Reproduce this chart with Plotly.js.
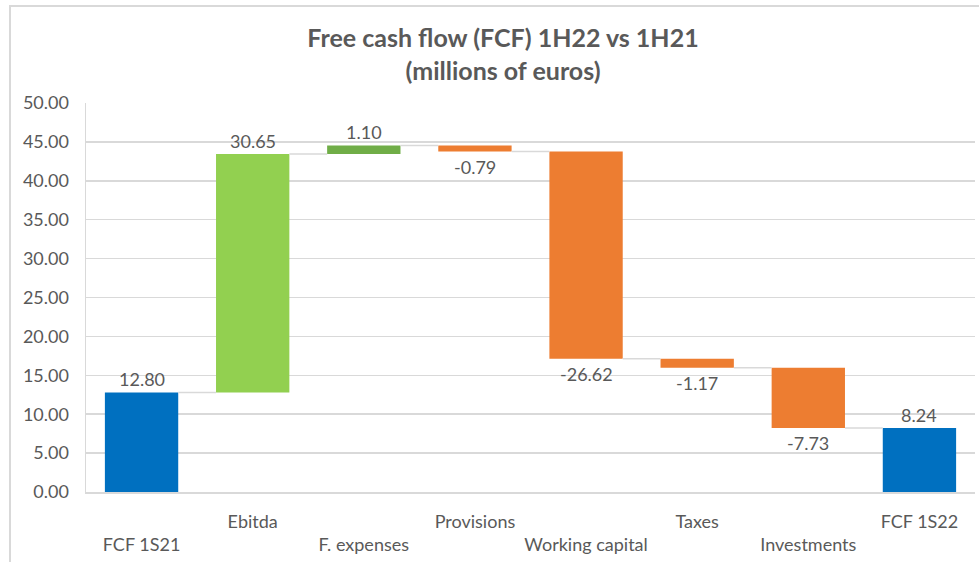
<!DOCTYPE html>
<html>
<head>
<meta charset="utf-8">
<script src="https://cdn.plot.ly/plotly-3.0.1.min.js"></script>
<style>
html,body{margin:0;padding:0;background:#fff;}
#frame{position:absolute;left:9px;top:5px;width:990px;height:580px;border:2px solid #d9d9d9;box-sizing:border-box;pointer-events:none;z-index:2;}
#chart{position:absolute;left:0;top:0;width:979px;height:562px;}
</style>
</head>
<body>
<div id="chart"></div>
<div id="frame"></div>
<script>
// ---- data ----
const categories = ["FCF 1S21","Ebitda","F. expenses","Provisions","Working capital","Taxes","Investments","FCF 1S22"];
const values = [12.80, 30.65, 1.10, -0.79, -26.62, -1.17, -7.73, 8.24];
const kinds = ["total","relative","relative","relative","relative","relative","relative","total"];
const yTicks = [0,5,10,15,20,25,30,35,40,45,50];

// ---- styles ----
const barColors = ["#0070C0","#92D050","#70AD47","#ED7D31","#ED7D31","#ED7D31","#ED7D31","#0070C0"];
const textColor = "#595959";
const gridColor = "#d9d9d9";
const FONT = "Lato, 'Open Sans', sans-serif";
const barWidth = 0.66;

// compute waterfall bases
const xs = categories.map((c,i)=>i);
const bases = [], heights = [], levels = [];
let running = 0;
values.forEach((v,i)=>{
  if (kinds[i]==="total") { bases.push(0); heights.push(v); running = v; }
  else { bases.push(running); heights.push(v); running += v; }
  levels.push(running);
});

const bars = {
  type:"bar", x: xs, y: heights, base: bases, width: barWidth,
  marker:{color: barColors, line:{width:0}}, hoverinfo:"skip", showlegend:false
};

// connectors
const cx = [], cy = [];
for (let i=0;i<values.length-1;i++){
  cx.push(i+barWidth/2, i+1-barWidth/2, null);
  cy.push(levels[i], levels[i], null);
}
const connectors = {type:"scatter", mode:"lines", x:cx, y:cy, line:{color:gridColor,width:1.5}, hoverinfo:"skip", showlegend:false};

// value labels as annotations
const annotations = values.map((v,i)=>{
  const top = bases[i] + Math.max(v,0);
  const bot = bases[i] + Math.min(v,0);
  const pos = v>=0;
  return {x:i, y: pos ? top : bot, xref:"x", yref:"y", text:v.toFixed(2), showarrow:false,
    xanchor:"center", yanchor: pos ? "bottom" : "top", yshift: pos ? 0 : -2,
    font:{family:FONT,size:18,color:textColor}};
});

const layout = {
  width:979, height:562,
  margin:{l:86, r:4, t:103, b:70},
  paper_bgcolor:"#fff", plot_bgcolor:"#fff",
  font:{family:FONT, color:textColor},
  title:{text:"Free cash flow (FCF) 1H22 vs 1H21<br>(millions of euros)", font:{family:FONT,size:25,color:textColor,weight:700},
    x:503/979, xref:"container", xanchor:"center", y:1-47/562, yref:"container", yanchor:"top"},
  xaxis:{range:[-0.5, categories.length-0.5], tickmode:"array", tickvals:xs,
    ticktext: categories.map((c,i)=> i%2===0 ? "<br>"+c : c),
    ticks:"outside", ticklen:12, tickcolor:"rgba(0,0,0,0)", showgrid:false, zeroline:false,
    showline:true, linecolor:gridColor, linewidth:2, tickfont:{family:FONT,size:18,color:textColor}, fixedrange:true},
  yaxis:{range:[0,50], tickmode:"array", tickvals:yTicks, tickformat:".2f", showgrid:true, gridcolor:gridColor, gridwidth:1.5,
    zeroline:false, showline:true, linecolor:gridColor, linewidth:1.5, ticks:"", ticklabelstandoff:12,
    tickfont:{family:FONT,size:18,color:textColor}, fixedrange:true},
  annotations: annotations,
  bargap:0.34
};

Plotly.newPlot("chart",[bars,connectors],layout,{displayModeBar:false,staticPlot:true});
</script>
</body>
</html>
